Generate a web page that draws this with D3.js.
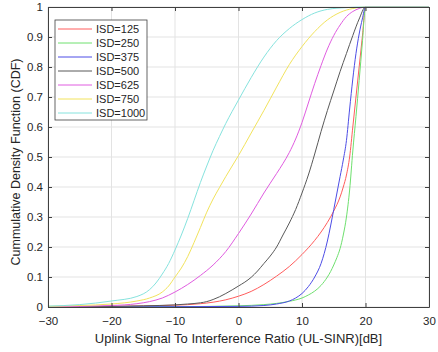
<!DOCTYPE html>
<html>
<head>
<meta charset="utf-8">
<script src="https://cdn.jsdelivr.net/npm/d3@7"></script>
<style>
  body { margin: 0; background: #fff; }
  text { font-family: "Liberation Sans", Arial, sans-serif; fill: #262626; }
</style>
</head>
<body>
<script>
// canvas size and plot margins
var w = 438;
var h = 352;
var margin = {left: 48, right: 9, top: 7, bottom: 45};

// series names and colours
var names = ["ISD=125", "ISD=250", "ISD=375", "ISD=500", "ISD=625", "ISD=750", "ISD=1000"];
var colors = ["#ff5c5c", "#6ee06e", "#4d4de6", "#595959", "#e05ce0", "#f2e35c", "#86e3de"];

// tick values
var xTicks = [-30, -20, -10, 0, 10, 20, 30];
var yTicks = [0, 0.1, 0.2, 0.3, 0.4, 0.5, 0.6, 0.7, 0.8, 0.9, 1];

// SINR values (dB) and CDF values
var sinr125 = [-30, -20, -10, -6, -4, -2, 0, 2, 4, 6, 8, 10, 12, 13, 14, 15, 16, 16.5, 17, 17.5, 18, 18.5, 19, 19.5, 20, 30];
var cdf125  = [0, 0.002, 0.006, 0.011, 0.016, 0.024, 0.036, 0.052, 0.075, 0.103, 0.135, 0.175, 0.222, 0.25, 0.282, 0.32, 0.367, 0.4, 0.44, 0.5, 0.6, 0.7, 0.8, 0.9, 1, 1];

var sinr250 = [-30, -10, 0, 4, 6, 8, 10, 11, 12, 13, 14, 14.5, 15, 15.5, 16, 16.5, 17, 17.5, 18, 18.5, 19, 19.5, 20, 30];
var cdf250  = [0, 0.001, 0.004, 0.008, 0.012, 0.019, 0.03, 0.04, 0.053, 0.072, 0.1, 0.118, 0.14, 0.165, 0.195, 0.24, 0.3, 0.39, 0.52, 0.635, 0.755, 0.88, 1, 1];

var sinr375 = [-30, -10, 0, 4, 6, 8, 9, 10, 11, 12, 13, 14, 14.5, 15, 15.5, 16, 16.5, 17, 17.5, 18, 18.5, 19, 19.5, 20, 30];
var cdf375  = [0, 0.001, 0.002, 0.005, 0.01, 0.02, 0.03, 0.045, 0.068, 0.1, 0.145, 0.22, 0.27, 0.325, 0.38, 0.435, 0.49, 0.555, 0.66, 0.76, 0.845, 0.91, 0.96, 1, 1];

var sinr500 = [-30, -20, -15, -10, -8, -6, -5, -4, -3, -2, -1, 0, 1, 2, 3, 4, 5, 6, 7, 8, 9, 10, 11, 12, 13, 14, 15, 16, 17, 18, 19, 20, 30];
var cdf500  = [0, 0.002, 0.004, 0.007, 0.01, 0.014, 0.018, 0.025, 0.034, 0.045, 0.057, 0.07, 0.083, 0.099, 0.12, 0.145, 0.17, 0.2, 0.24, 0.28, 0.325, 0.38, 0.44, 0.51, 0.585, 0.655, 0.72, 0.785, 0.845, 0.905, 0.96, 1, 1];

var sinr625 = [-30, -20, -16, -14, -12, -10, -8, -6, -4, -2, 0, 2, 4, 6, 7, 8, 9, 10, 11, 12, 13, 14, 15, 16, 17, 18, 19, 20, 30];
var cdf625  = [0.001, 0.005, 0.011, 0.018, 0.03, 0.05, 0.075, 0.105, 0.14, 0.185, 0.245, 0.31, 0.38, 0.445, 0.478, 0.515, 0.56, 0.615, 0.68, 0.745, 0.805, 0.86, 0.905, 0.94, 0.968, 0.985, 0.995, 1, 1];

var sinr750 = [-30, -25, -20, -16, -14, -12, -11, -10, -9, -8, -7, -6, -5, -4, -3, -2, -1, 0, 2, 4, 6, 8, 10, 12, 14, 16, 18, 20, 30];
var cdf750  = [0.002, 0.005, 0.01, 0.02, 0.03, 0.05, 0.07, 0.1, 0.13, 0.168, 0.215, 0.265, 0.316, 0.36, 0.398, 0.435, 0.47, 0.505, 0.58, 0.655, 0.733, 0.808, 0.868, 0.918, 0.957, 0.982, 0.995, 1, 1];

var sinr1000 = [-30, -25, -20, -16, -14, -13, -12, -11, -10, -9, -8, -7, -6, -5, -4, -3, -2, -1, 0, 2, 4, 6, 8, 10, 12, 14, 17, 20, 30];
var cdf1000  = [0.003, 0.008, 0.02, 0.035, 0.058, 0.08, 0.11, 0.145, 0.19, 0.24, 0.295, 0.355, 0.415, 0.47, 0.522, 0.568, 0.612, 0.652, 0.69, 0.765, 0.833, 0.888, 0.928, 0.958, 0.98, 0.992, 0.998, 1, 1];

var sinrs = [sinr125, sinr250, sinr375, sinr500, sinr625, sinr750, sinr1000];
var cdfs = [cdf125, cdf250, cdf375, cdf500, cdf625, cdf750, cdf1000];

var series = names.map(function(n, i) {
    return {
        name: n,
        color: colors[i],
        points: sinrs[i].map(function(x, j) { return [x, cdfs[i][j]]; })
    };
});

var svg = d3.select("body")
    .append("svg")
    .attr("width", w)
    .attr("height", h);

var x = d3.scaleLinear()
    .domain([-30, 30])
    .range([margin.left, w - margin.right]);

var y = d3.scaleLinear()
    .domain([0, 1])
    .range([h - margin.bottom, margin.top]);

// grid lines
svg.append("g")
    .selectAll("line")
    .data(xTicks)
    .enter()
    .append("line")
    .attr("x1", function(d) { return x(d); })
    .attr("x2", function(d) { return x(d); })
    .attr("y1", y(0))
    .attr("y2", y(1))
    .attr("stroke", "#e3e3e3");

svg.append("g")
    .selectAll("line")
    .data(yTicks)
    .enter()
    .append("line")
    .attr("x1", x(-30))
    .attr("x2", x(30))
    .attr("y1", function(d) { return y(d); })
    .attr("y2", function(d) { return y(d); })
    .attr("stroke", "#e3e3e3");

// curves
var line = d3.line()
    .x(function(d) { return x(d[0]); })
    .y(function(d) { return y(d[1]); })
    .curve(d3.curveMonotoneX);

svg.append("g")
    .selectAll("path")
    .data(series)
    .enter()
    .append("path")
    .attr("fill", "none")
    .attr("stroke", function(d) { return d.color; })
    .attr("stroke-width", 1)
    .attr("d", function(d) { return line(d.points); });

// axes, MATLAB style: inward ticks on all four sides
var tickLen = 4;
var xAxisB = d3.axisBottom(x).tickValues(xTicks).tickSizeInner(-tickLen).tickSizeOuter(0).tickPadding(10);
var xAxisT = d3.axisTop(x).tickValues(xTicks).tickSizeInner(-tickLen).tickSizeOuter(0).tickFormat("");
var yAxisL = d3.axisLeft(y).tickValues(yTicks).tickSizeInner(-tickLen).tickSizeOuter(0).tickPadding(5)
    .tickFormat(function(d) { return d3.format("")(d); });
var yAxisR = d3.axisRight(y).tickValues(yTicks).tickSizeInner(-tickLen).tickSizeOuter(0).tickFormat("");

function styleAxis(g) {
    g.select(".domain").attr("stroke", "#404040");
    g.selectAll(".tick line").attr("stroke", "#404040");
    g.selectAll(".tick text")
        .style("font-family", "Liberation Sans, Arial, sans-serif")
        .style("font-size", "11.5px")
        .attr("fill", "#262626");
}

svg.append("g").attr("transform", "translate(0," + y(0) + ")").call(xAxisB).call(styleAxis);
svg.append("g").attr("transform", "translate(0," + y(1) + ")").call(xAxisT).call(styleAxis);
svg.append("g").attr("transform", "translate(" + x(-30) + ",0)").call(yAxisL).call(styleAxis);
svg.append("g").attr("transform", "translate(" + x(30) + ",0)").call(yAxisR).call(styleAxis);

// axis titles
svg.append("text")
    .attr("x", 238.5)
    .attr("y", 343)
    .attr("text-anchor", "middle")
    .style("font-size", "13px")
    .text("Uplink Signal To Interference Ratio (UL-SINR)[dB]");

svg.append("text")
    .attr("transform", "translate(20,162) rotate(-90)")
    .attr("text-anchor", "middle")
    .style("font-size", "12.5px")
    .text("Cummulative Density Function (CDF)");

// legend
var legend = svg.append("g").attr("transform", "translate(55,20)");

legend.append("rect")
    .attr("width", 92)
    .attr("height", 100)
    .attr("fill", "#fff")
    .attr("stroke", "#404040")
    .attr("stroke-width", 0.8);

var rows = legend.selectAll("g.row")
    .data(series)
    .enter()
    .append("g")
    .attr("class", "row")
    .attr("transform", function(d, i) { return "translate(0," + (9 + i * 14) + ")"; });

rows.append("line")
    .attr("x1", 3)
    .attr("x2", 37)
    .attr("stroke", function(d) { return d.color; })
    .attr("stroke-width", 1);

rows.append("text")
    .attr("x", 41)
    .attr("dy", "0.35em")
    .style("font-size", "11px")
    .text(function(d) { return d.name; });
</script>
</body>
</html>
